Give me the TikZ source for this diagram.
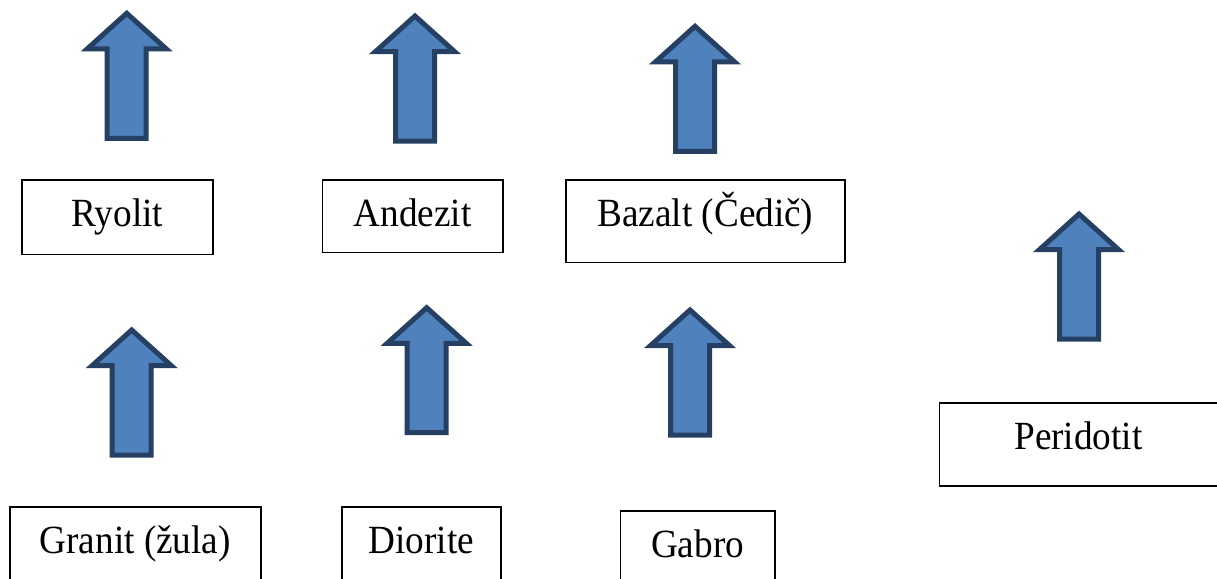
\documentclass[tikz,border=0pt]{standalone}
\usepackage{fontspec}
\setmainfont{Liberation Serif}[FakeStretch=0.93]
\usetikzlibrary{shapes.arrows}
\definecolor{arrowfill}{HTML}{4F81BD}
\definecolor{arrowline}{HTML}{264064}
\tikzset{
  rock/.style={draw=black, line width=1.5pt, rectangle, anchor=north west,
    inner sep=0pt, text height=46.5pt, font=\fontsize{40}{46}\selectfont},
  uparrow/.style={single arrow, shape border rotate=90, draw=arrowline,
    fill=arrowfill, line width=5pt, inner sep=17pt, single arrow head extend=20pt,
    single arrow tip angle=96, minimum height=125pt, anchor=tail}
}
\begin{document}
\begin{tikzpicture}[x=1pt,y=-1pt]
            \useasboundingbox (0,0) rectangle (1217,578);
            \clip (0,0) rectangle (1217,578);
            \node[uparrow] (ar1) at (126.7,140.8) {};
            \node[uparrow] (ar2) at (415,143.5) {};
            \node[uparrow] (ar3) at (695,153.8) {};
            \node[uparrow] (ar4) at (1079,341.5) {};
            \node[uparrow] (ar5) at (131.7,457.5) {};
            \node[uparrow] (ar6) at (426.7,435.2) {};
            \node[uparrow] (ar7) at (690,437.5) {};
            \node[rock, minimum width=191pt, text depth=28.2pt] (ryolit) at (21,179) {Ryolit};
            \node[rock, minimum width=180.3pt, text depth=26.2pt] (andezit) at (321.7,179) {Andezit};
            \node[rock, minimum width=278.7pt, text depth=36.2pt] (bazalt) at (565.3,179) {Bazalt (Čedič)};
            \node[rock, minimum width=278pt, text depth=36.5pt] (peridotit) at (938.7,402) {Peridotit};
            \node[rock, minimum width=251pt, text depth=33.5pt] (granit) at (9,506) {Granit (žula)};
            \node[rock, minimum width=159pt, text depth=33.5pt] (diorite) at (341,506) {Diorite};
            \node[rock, minimum width=154.3pt, text depth=33.5pt] (gabro) at (619.7,510) {Gabro};
        \end{tikzpicture}
\end{document}
